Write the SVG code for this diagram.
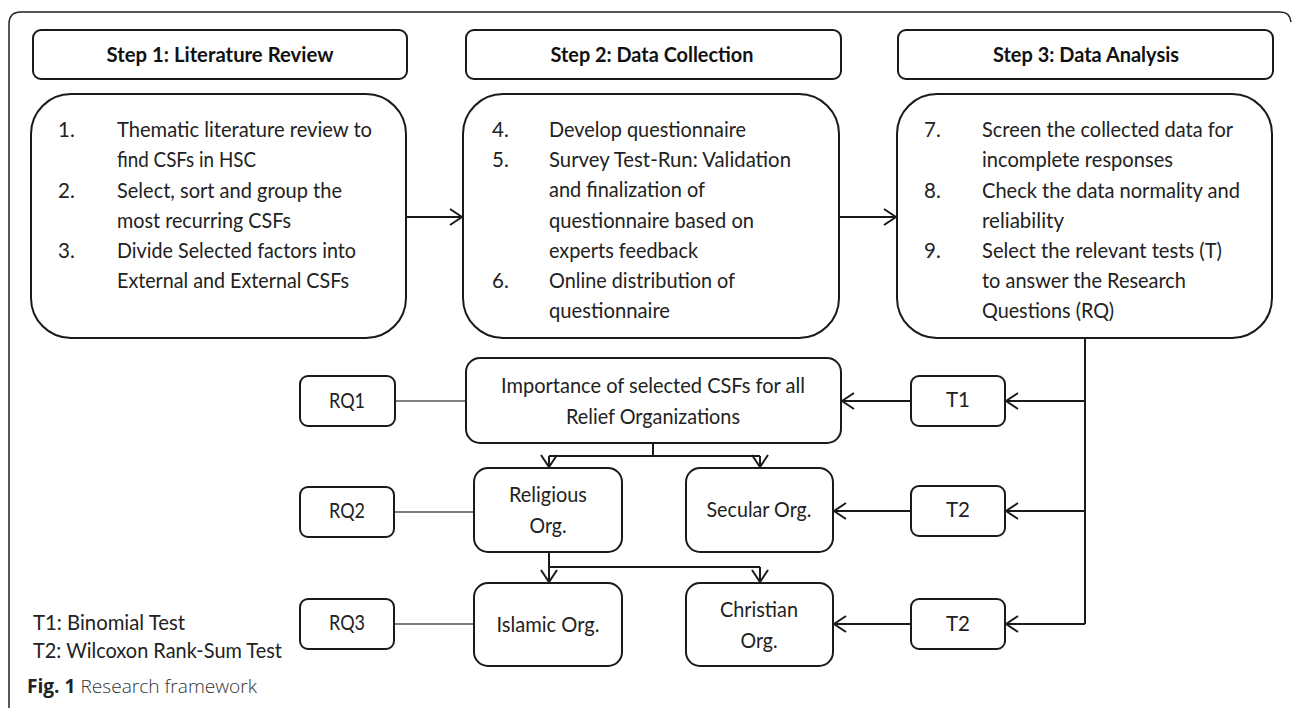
<svg xmlns="http://www.w3.org/2000/svg" width="1292" height="710" viewBox="0 0 1292 710">
<style>
.bg{fill:#fff}
.frame{fill:none;stroke:#222;stroke-width:1.5}
.box{fill:#fff;stroke:#1a1a1a;stroke-width:2}
.t{font-family:Lato,"Liberation Sans",sans-serif;font-size:20.5px;fill:#222}
.h{font-family:Lato,"Liberation Sans",sans-serif;font-size:21px;font-weight:bold;fill:#111}
.c{text-anchor:middle}
.ln{fill:none;stroke:#1a1a1a;stroke-width:2}
.rq{fill:none;stroke:#555;stroke-width:1.5}
.cap{font-family:"Open Sans","Liberation Sans",sans-serif;font-size:19px;fill:#333;font-weight:300}
</style>
<defs>
<marker id="ah" viewBox="0 0 14 18" refX="13" refY="9" markerWidth="14" markerHeight="18" markerUnits="userSpaceOnUse" orient="auto">
<path d="M1,1 L13,9 L1,17" fill="none" stroke="#1a1a1a" stroke-width="2"/>
</marker>
</defs>
<rect class="bg" x="0" y="0" width="1292" height="710"/>
<path class="frame" d="M9,708 V24 Q9,12 21,12 H1280 Q1290,12 1291,22"/>

<g id="connectors">
<path class="ln" d="M406,217 H462" marker-end="url(#ah)"/>
<path class="ln" d="M839,217 H896" marker-end="url(#ah)"/>
<path class="ln" d="M1085,338 V624"/>
<path class="ln" d="M1085,401 H1006" marker-end="url(#ah)"/>
<path class="ln" d="M1085,511 H1006" marker-end="url(#ah)"/>
<path class="ln" d="M1085,624 H1006" marker-end="url(#ah)"/>
<path class="ln" d="M911,401 H842" marker-end="url(#ah)"/>
<path class="ln" d="M911,511 H834" marker-end="url(#ah)"/>
<path class="ln" d="M911,624 H834" marker-end="url(#ah)"/>
<path class="ln" d="M653,443 V456 M549,456 H760"/>
<path class="ln" d="M549,456 V467" marker-end="url(#ah)"/>
<path class="ln" d="M760,456 V467" marker-end="url(#ah)"/>
<path class="ln" d="M549,552 V567 M549,567 H760"/>
<path class="ln" d="M549,567 V582" marker-end="url(#ah)"/>
<path class="ln" d="M760,567 V582" marker-end="url(#ah)"/>
<path class="rq" d="M395,401 H466"/>
<path class="rq" d="M394,512 H474"/>
<path class="rq" d="M394,624 H474"/>
</g>

<g id="step1-header">
<rect class="box" x="33" y="30" width="374" height="49" rx="8"/>
<text class="h c" x="220" y="62" textLength="227" lengthAdjust="spacingAndGlyphs">Step 1: Literature Review</text>
</g>
<g id="step2-header">
<rect class="box" x="466" y="30" width="375" height="49" rx="8"/>
<text class="h c" x="652" y="62" textLength="203" lengthAdjust="spacingAndGlyphs">Step 2: Data Collection</text>
</g>
<g id="step3-header">
<rect class="box" x="898" y="30" width="375" height="49" rx="8"/>
<text class="h c" x="1086" y="62" textLength="186" lengthAdjust="spacingAndGlyphs">Step 3: Data Analysis</text>
</g>

<g id="step1-box">
<rect class="box" x="31" y="94" width="375" height="244" rx="40"/>
<text class="t" x="58" y="137">1.</text>
<text class="t" x="117" y="137" textLength="255" lengthAdjust="spacingAndGlyphs">Thematic literature review to</text>
<text class="t" x="117" y="167" textLength="139" lengthAdjust="spacingAndGlyphs">find CSFs in HSC</text>
<text class="t" x="58" y="198">2.</text>
<text class="t" x="117" y="198" textLength="225" lengthAdjust="spacingAndGlyphs">Select, sort and group the</text>
<text class="t" x="117" y="228" textLength="174" lengthAdjust="spacingAndGlyphs">most recurring CSFs</text>
<text class="t" x="58" y="258">3.</text>
<text class="t" x="117" y="258" textLength="239" lengthAdjust="spacingAndGlyphs">Divide Selected factors into</text>
<text class="t" x="117" y="288" textLength="232" lengthAdjust="spacingAndGlyphs">External and External CSFs</text>
</g>

<g id="step2-box">
<rect class="box" x="463" y="94" width="376" height="244" rx="40"/>
<text class="t" x="492" y="137">4.</text>
<text class="t" x="549" y="137" textLength="197" lengthAdjust="spacingAndGlyphs">Develop questionnaire</text>
<text class="t" x="492" y="167">5.</text>
<text class="t" x="549" y="167" textLength="242" lengthAdjust="spacingAndGlyphs">Survey Test-Run: Validation</text>
<text class="t" x="549" y="197" textLength="156" lengthAdjust="spacingAndGlyphs">and finalization of</text>
<text class="t" x="549" y="228" textLength="205" lengthAdjust="spacingAndGlyphs">questionnaire based on</text>
<text class="t" x="549" y="258" textLength="149" lengthAdjust="spacingAndGlyphs">experts feedback</text>
<text class="t" x="492" y="288">6.</text>
<text class="t" x="549" y="288" textLength="186" lengthAdjust="spacingAndGlyphs">Online distribution of</text>
<text class="t" x="549" y="318" textLength="121" lengthAdjust="spacingAndGlyphs">questionnaire</text>
</g>

<g id="step3-box">
<rect class="box" x="897" y="94" width="375" height="244" rx="40"/>
<text class="t" x="924" y="137">7.</text>
<text class="t" x="982" y="137" textLength="251" lengthAdjust="spacingAndGlyphs">Screen the collected data for</text>
<text class="t" x="982" y="167" textLength="191" lengthAdjust="spacingAndGlyphs">incomplete responses</text>
<text class="t" x="924" y="198">8.</text>
<text class="t" x="982" y="198" textLength="258" lengthAdjust="spacingAndGlyphs">Check the data normality and</text>
<text class="t" x="982" y="228" textLength="82" lengthAdjust="spacingAndGlyphs">reliability</text>
<text class="t" x="924" y="258">9.</text>
<text class="t" x="982" y="258" textLength="240" lengthAdjust="spacingAndGlyphs">Select the relevant tests (T)</text>
<text class="t" x="982" y="288" textLength="204" lengthAdjust="spacingAndGlyphs">to answer the Research</text>
<text class="t" x="982" y="318" textLength="132" lengthAdjust="spacingAndGlyphs">Questions (RQ)</text>
</g>

<g id="importance">
<rect class="box" x="466" y="358" width="375" height="85" rx="14"/>
<text class="t c" x="653" y="393" textLength="304" lengthAdjust="spacingAndGlyphs">Importance of selected CSFs for all</text>
<text class="t c" x="653" y="424" textLength="174" lengthAdjust="spacingAndGlyphs">Relief Organizations</text>
</g>
<g id="religious">
<rect class="box" x="474" y="468" width="148" height="84" rx="14"/>
<text class="t c" x="548" y="502" textLength="78" lengthAdjust="spacingAndGlyphs">Religious</text>
<text class="t c" x="548" y="533" textLength="37" lengthAdjust="spacingAndGlyphs">Org.</text>
</g>
<g id="secular">
<rect class="box" x="686" y="468" width="147" height="84" rx="14"/>
<text class="t c" x="759" y="517" textLength="105" lengthAdjust="spacingAndGlyphs">Secular Org.</text>
</g>
<g id="islamic">
<rect class="box" x="474" y="583" width="148" height="83" rx="14"/>
<text class="t c" x="548" y="632" textLength="103" lengthAdjust="spacingAndGlyphs">Islamic Org.</text>
</g>
<g id="christian">
<rect class="box" x="686" y="583" width="147" height="83" rx="14"/>
<text class="t c" x="759" y="617" textLength="78" lengthAdjust="spacingAndGlyphs">Christian</text>
<text class="t c" x="759" y="648" textLength="37" lengthAdjust="spacingAndGlyphs">Org.</text>
</g>

<g id="rq1">
<rect class="box" x="300" y="376" width="95" height="50" rx="8"/>
<text class="t c" x="347" y="408" textLength="36" lengthAdjust="spacingAndGlyphs">RQ1</text>
</g>
<g id="rq2">
<rect class="box" x="300" y="487" width="94" height="50" rx="8"/>
<text class="t c" x="347" y="518" textLength="36" lengthAdjust="spacingAndGlyphs">RQ2</text>
</g>
<g id="rq3">
<rect class="box" x="300" y="599" width="94" height="50" rx="8"/>
<text class="t c" x="347" y="630" textLength="36" lengthAdjust="spacingAndGlyphs">RQ3</text>
</g>

<g id="t1">
<rect class="box" x="911" y="376" width="94" height="50" rx="8"/>
<text class="t c" x="958" y="407">T1</text>
</g>
<g id="t2a">
<rect class="box" x="911" y="486" width="94" height="50" rx="8"/>
<text class="t c" x="958" y="517">T2</text>
</g>
<g id="t2b">
<rect class="box" x="911" y="599" width="94" height="50" rx="8"/>
<text class="t c" x="958" y="631">T2</text>
</g>

<g id="legend">
<text class="t" x="33" y="630" textLength="152" lengthAdjust="spacingAndGlyphs">T1: Binomial Test</text>
<text class="t" x="33" y="658" textLength="249" lengthAdjust="spacingAndGlyphs">T2: Wilcoxon Rank-Sum Test</text>
</g>

<g id="caption">
<text class="cap" x="27" y="693" textLength="230" lengthAdjust="spacingAndGlyphs"><tspan font-weight="bold" fill="#222">Fig. 1</tspan> Research framework</text>
</g>
</svg>
